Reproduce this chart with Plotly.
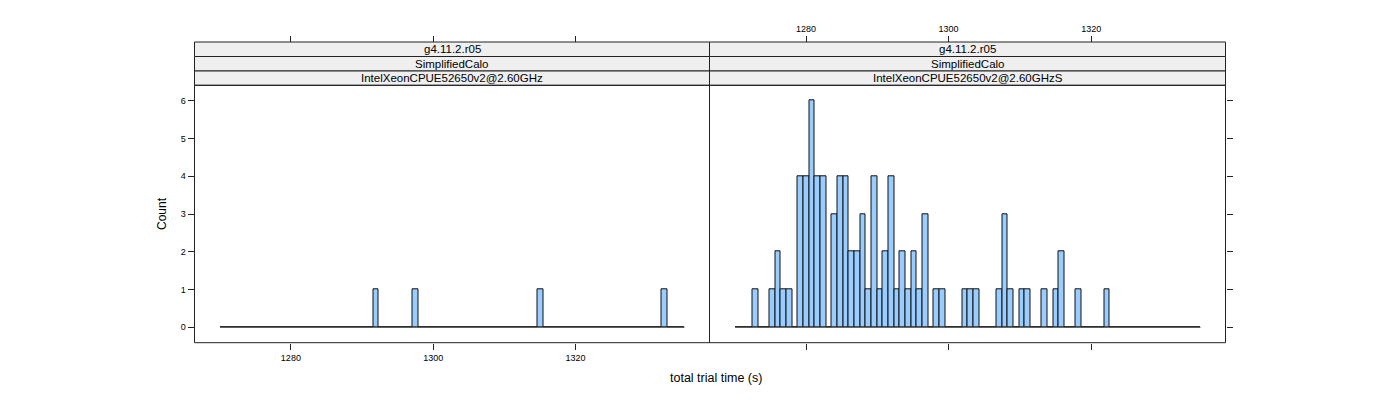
import plotly.graph_objects as go

# ---- data (histogram breaks and counts) ----
bin_start = 1270.08
bin_width = 0.796
n_bins = 82

panel_titles_1 = ["g4.11.2.r05", "g4.11.2.r05"]
panel_titles_2 = ["SimplifiedCalo", "SimplifiedCalo"]
panel_titles_3 = ["IntelXeonCPUE52650v2@2.60GHz", "IntelXeonCPUE52650v2@2.60GHzS"]

counts_left = [0] * 82
for i in (27, 34, 56, 78):
    counts_left[i] = 1

counts_right = [
    0, 0, 0, 1, 0, 0, 1, 2, 1, 1,
    0, 4, 4, 6, 4, 4, 0, 3, 4, 4,
    2, 2, 3, 1, 4, 1, 2, 4, 1, 2,
    1, 2, 1, 3, 0, 1, 1, 0, 0, 0,
    1, 1, 1, 0, 0, 0, 1, 3, 1, 0,
    1, 1, 0, 0, 1, 0, 1, 2, 0, 0,
    1, 0, 0, 0, 0, 1, 0, 0, 0, 0,
    0, 0, 0, 0, 0, 0, 0, 0, 0, 0,
    0, 0,
]

x_ticks = [1280, 1300, 1320]
y_ticks = [0, 1, 2, 3, 4, 5, 6]
x_range = [1266.45, 1338.85]
y_range = [-0.408, 6.408]

centers = [bin_start + (i + 0.5) * bin_width for i in range(n_bins)]
hist_lo = bin_start
hist_hi = bin_start + n_bins * bin_width

W, H = 1400, 400
px = lambda v: v / W
py = lambda v: 1 - v / H

dom_left = [px(194.5), px(709.5)]
dom_right = [px(709.5), px(1225.5)]
ydom = [py(342.7), py(85.3)]
strip_edges = [py(42), py(56.5), py(71), py(85.3)]

FILL = "#99CCFF"
FONT = "Liberation Sans, Arial, Helvetica, sans-serif"

fig = go.Figure()

for xa, ya, cnt in (("x", "y", counts_left), ("x2", "y2", counts_right)):
    fig.add_trace(go.Scatter(x=[hist_lo, hist_hi], y=[0, 0], mode="lines",
                             line=dict(color="#555555", width=1),
                             xaxis=xa, yaxis=ya, showlegend=False, hoverinfo="skip"))
    fig.add_trace(go.Bar(x=centers, y=cnt, width=bin_width,
                         marker=dict(color=FILL, line=dict(color="#111111", width=1)),
                         xaxis=xa, yaxis=ya, showlegend=False))

# invisible traces for overlay top axes
fig.add_trace(go.Scatter(x=[1300], y=[0], mode="markers", marker=dict(opacity=0),
                         xaxis="x3", yaxis="y", showlegend=False, hoverinfo="skip"))
fig.add_trace(go.Scatter(x=[1300], y=[0], mode="markers", marker=dict(opacity=0),
                         xaxis="x4", yaxis="y2", showlegend=False, hoverinfo="skip"))

tick_common = dict(ticks="outside", ticklen=6, tickwidth=1, tickcolor="#222222",
                   showgrid=False, zeroline=False, showline=False,
                   tickfont=dict(family=FONT, size=9, color="black"))

fig.update_layout(
    width=W, height=H,
    margin=dict(l=0, r=0, t=0, b=0),
    paper_bgcolor="white", plot_bgcolor="white",
    bargap=0,
    xaxis=dict(domain=dom_left, range=x_range, anchor="y", tickvals=x_ticks,
               showticklabels=True, **tick_common),
    xaxis2=dict(domain=dom_right, range=x_range, anchor="y2", tickvals=x_ticks,
                showticklabels=False, **tick_common),
    xaxis3=dict(overlaying="x", range=x_range, anchor="free", position=strip_edges[0],
                side="top", tickvals=x_ticks, showticklabels=False, **tick_common),
    xaxis4=dict(overlaying="x2", range=x_range, anchor="free", position=strip_edges[0],
                side="top", tickvals=x_ticks, showticklabels=True, **tick_common),
    yaxis=dict(domain=ydom, range=y_range, anchor="x", tickvals=y_ticks,
               showticklabels=True, **tick_common),
    yaxis2=dict(domain=ydom, range=y_range, anchor="x2", side="right", tickvals=y_ticks,
                showticklabels=False, **tick_common),
)

shapes = []
annotations = []
for k, dom in enumerate((dom_left, dom_right)):
    # panel border
    shapes.append(dict(type="rect", xref="paper", yref="paper",
                       x0=dom[0], x1=dom[1], y0=ydom[0], y1=ydom[1],
                       line=dict(color="#222222", width=1), fillcolor="rgba(0,0,0,0)"))
    texts = [panel_titles_1[k], panel_titles_2[k], panel_titles_3[k]]
    for j in range(3):
        shapes.append(dict(type="rect", xref="paper", yref="paper",
                           x0=dom[0], x1=dom[1], y0=strip_edges[j + 1], y1=strip_edges[j],
                           line=dict(color="#222222", width=1), fillcolor="#EFEFEF",
                           layer="below"))
        annotations.append(dict(xref="paper", yref="paper",
                                x=(dom[0] + dom[1]) / 2,
                                y=(strip_edges[j] + strip_edges[j + 1]) / 2,
                                text=texts[j], showarrow=False,
                                xanchor="center", yanchor="middle",
                                font=dict(family=FONT, size=11.5, color="black")))

annotations.append(dict(xref="paper", yref="paper", x=px(716), y=py(378),
                        text="total trial time (s)", showarrow=False,
                        xanchor="center", yanchor="middle",
                        font=dict(family=FONT, size=12.5, color="black")))
annotations.append(dict(xref="paper", yref="paper", x=px(162), y=py(214),
                        text="Count", showarrow=False, textangle=-90,
                        xanchor="center", yanchor="middle",
                        font=dict(family=FONT, size=12, color="black")))

fig.update_layout(shapes=shapes, annotations=annotations)

fig.write_html("out.html")
